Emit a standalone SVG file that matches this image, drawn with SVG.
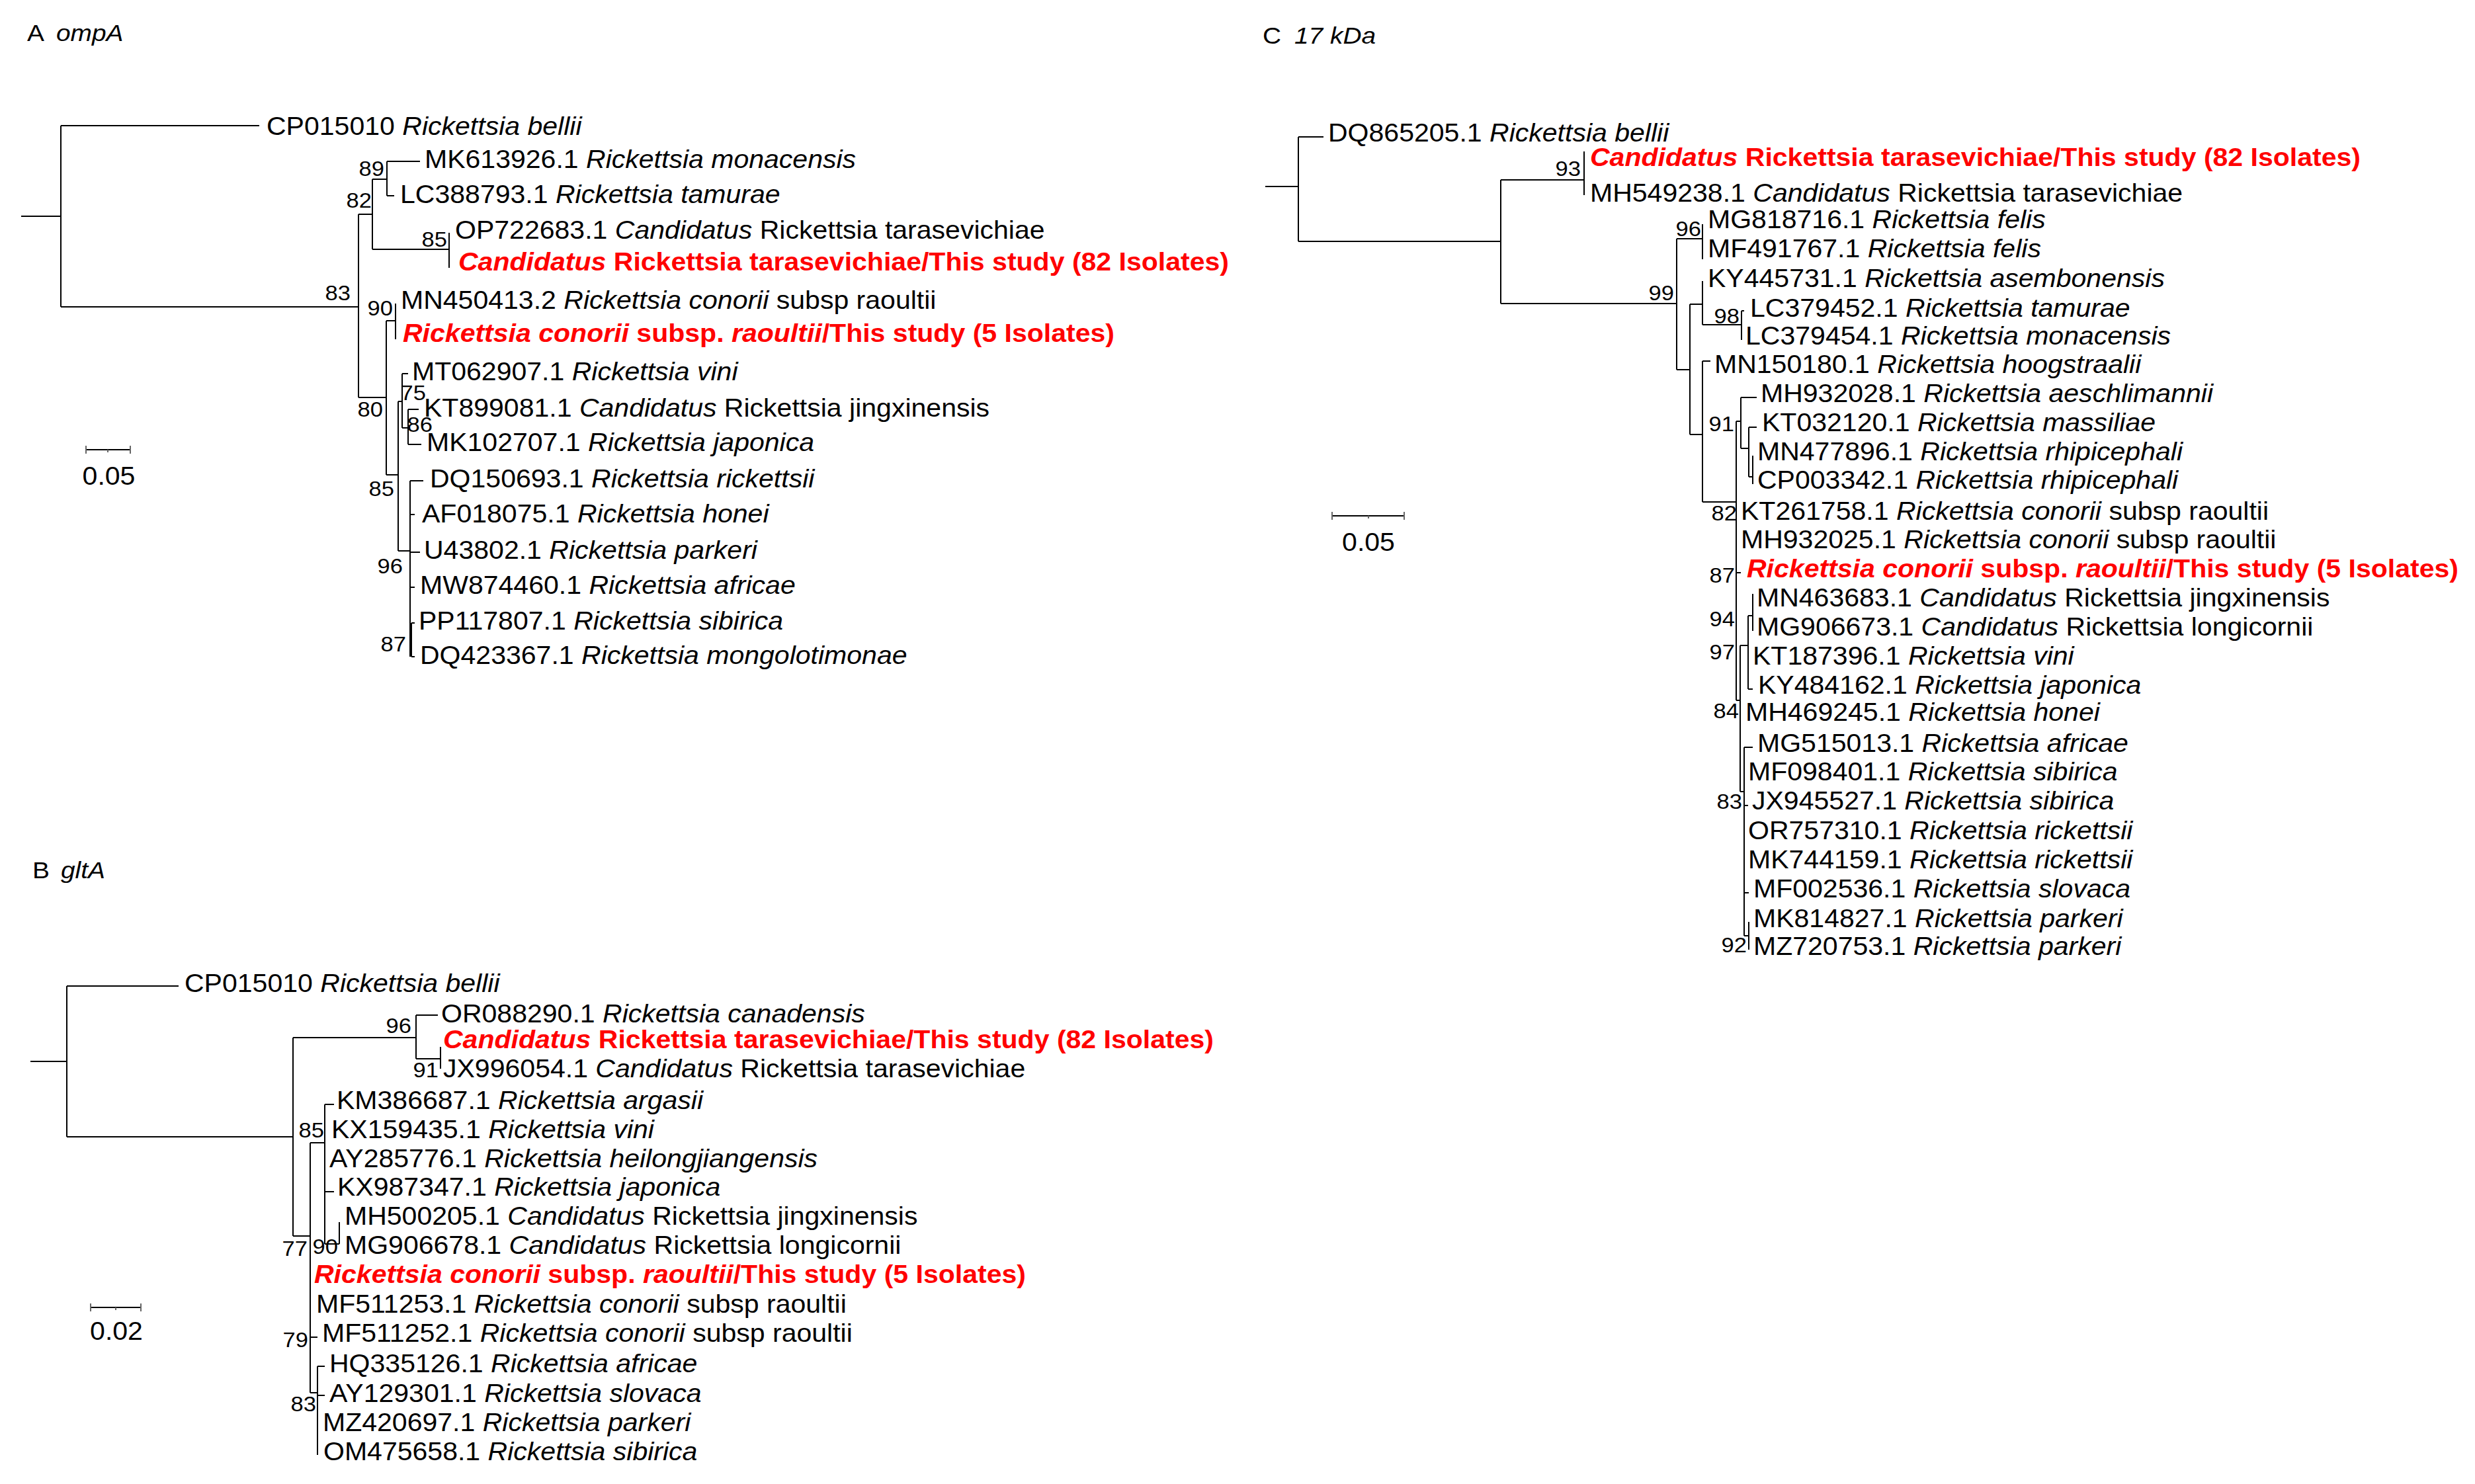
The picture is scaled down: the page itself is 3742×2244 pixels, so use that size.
<svg xmlns="http://www.w3.org/2000/svg" width="3742" height="2244" viewBox="0 0 3742 2244">
<style>
.t{font-family:"Liberation Sans",Arial,sans-serif;font-size:38px;fill:#000}
.h{font-size:36px}
.i{font-style:italic}
.r{fill:#ff0000;font-weight:bold}
.bs{font-size:32px;text-anchor:end}
.sc{text-anchor:middle}
.br{stroke:#000;stroke-width:2;fill:none}
.tk{stroke:#666;stroke-width:2;fill:none}
</style>
<rect width="3742" height="2244" fill="#fff"/>

<!-- ================= PANEL A ================= -->
<g id="A-title">
<text class="t h" transform="translate(41,62) scale(1.08,1)">A</text>
<text class="t h i" transform="translate(85,62) scale(1.08,1)">ompA</text>
</g>
<g id="A-branches">
<path class="br" d="M32 327H92 M92 190V464 M92 190H392 M92 464H542 M542 324V601 M542 324H563 M563 271V377 M563 271H585 M585 244V296 M585 244H635 M585 296H596 M563 377H679 M679 352V405 M542 601H584 M584 485V718 M584 485H598 M598 459V513 M584 718H602 M602 607V833 M602 607H608 M608 565V647 M608 565H617 M608 647H617 M617 619V672 M617 619H633 M617 672H637 M602 833H620 M620 727V993 M620 727H640 M620 778H627 M620 835H635 M620 888H627 M622 942V993 M622 942H627 M622 993H627"/>
</g>
<g id="A-scale">
<path class="br" d="M130 680H197"/>
<path class="tk" d="M130 674V686 M197 674V686 M163 680V684"/>
<text class="t sc" transform="translate(164.5,733) scale(1.08,1)">0.05</text>
</g>
<g id="A-bootstrap">
<text class="t bs" transform="translate(581,266) scale(1.08,1)">89</text>
<text class="t bs" transform="translate(562,314) scale(1.08,1)">82</text>
<text class="t bs" transform="translate(676,373) scale(1.08,1)">85</text>
<text class="t bs" transform="translate(530,454) scale(1.08,1)">83</text>
<text class="t bs" transform="translate(594,477) scale(1.08,1)">90</text>
<text class="t bs" transform="translate(579,630) scale(1.08,1)">80</text>
<text class="t bs" transform="translate(644,605) scale(1.08,1)">75</text>
<text class="t bs" transform="translate(654,653) scale(1.08,1)">86</text>
<text class="t bs" transform="translate(596,750) scale(1.08,1)">85</text>
<text class="t bs" transform="translate(609,867) scale(1.08,1)">96</text>
<text class="t bs" transform="translate(614,985) scale(1.08,1)">87</text>
</g>
<g id="A-tip-CP015010"><text class="t" transform="translate(403,204) scale(1.08,1)">CP015010 <tspan class="i">Rickettsia bellii</tspan></text></g>
<g id="A-tip-MK613926"><text class="t" transform="translate(642,254) scale(1.08,1)">MK613926.1 <tspan class="i">Rickettsia monacensis</tspan></text></g>
<g id="A-tip-LC388793"><text class="t" transform="translate(605,307) scale(1.08,1)">LC388793.1 <tspan class="i">Rickettsia tamurae</tspan></text></g>
<g id="A-tip-OP722683"><text class="t" transform="translate(688,361) scale(1.08,1)">OP722683.1 <tspan class="i">Candidatus</tspan> Rickettsia tarasevichiae</text></g>
<g id="A-tip-tarasevichiae-study"><text class="t r" transform="translate(693,409) scale(1.08,1)"><tspan class="i">Candidatus</tspan> Rickettsia tarasevichiae/This study (82 Isolates)</text></g>
<g id="A-tip-MN450413"><text class="t" transform="translate(606,467) scale(1.08,1)">MN450413.2 <tspan class="i">Rickettsia conorii</tspan> subsp raoultii</text></g>
<g id="A-tip-raoultii-study"><text class="t r" transform="translate(609,517) scale(1.08,1)"><tspan class="i">Rickettsia conorii</tspan> subsp. <tspan class="i">raoultii</tspan>/This study (5 Isolates)</text></g>
<g id="A-tip-MT062907"><text class="t" transform="translate(623,575) scale(1.08,1)">MT062907.1 <tspan class="i">Rickettsia vini</tspan></text></g>
<g id="A-tip-KT899081"><text class="t" transform="translate(641,630) scale(1.08,1)">KT899081.1 <tspan class="i">Candidatus</tspan> Rickettsia jingxinensis</text></g>
<g id="A-tip-MK102707"><text class="t" transform="translate(645,682) scale(1.08,1)">MK102707.1 <tspan class="i">Rickettsia japonica</tspan></text></g>
<g id="A-tip-DQ150693"><text class="t" transform="translate(650,737) scale(1.08,1)">DQ150693.1 <tspan class="i">Rickettsia rickettsii</tspan></text></g>
<g id="A-tip-AF018075"><text class="t" transform="translate(638,790) scale(1.08,1)">AF018075.1 <tspan class="i">Rickettsia honei</tspan></text></g>
<g id="A-tip-U43802"><text class="t" transform="translate(641,845) scale(1.08,1)">U43802.1 <tspan class="i">Rickettsia parkeri</tspan></text></g>
<g id="A-tip-MW874460"><text class="t" transform="translate(635,898) scale(1.08,1)">MW874460.1 <tspan class="i">Rickettsia africae</tspan></text></g>
<g id="A-tip-PP117807"><text class="t" transform="translate(633,952) scale(1.08,1)">PP117807.1 <tspan class="i">Rickettsia sibirica</tspan></text></g>
<g id="A-tip-DQ423367"><text class="t" transform="translate(635,1004) scale(1.08,1)">DQ423367.1 <tspan class="i">Rickettsia mongolotimonae</tspan></text></g>

<!-- ================= PANEL B ================= -->
<g id="B-title">
<text class="t h" transform="translate(49,1328) scale(1.08,1)">B</text>
<text class="t h i" transform="translate(92,1328) scale(1.08,1)">gltA</text>
</g>
<g id="B-branches">
<path class="br" d="M46 1605H101 M101 1491V1719 M101 1491H270 M101 1719H443 M443 1569V1869 M443 1569H629 M629 1535V1601 M629 1535H662 M629 1601H666 M666 1583V1616 M443 1869H469 M469 1728V2106 M469 1728H491 M491 1670V1881 M491 1670H505 M491 1802H505 M491 1881H513 M513 1848V1881 M469 2022H480 M469 2106H480 M480 2066V2200 M480 2066H491 M480 2110H491"/>
</g>
<g id="B-scale">
<path class="br" d="M137 1977H213"/>
<path class="tk" d="M137 1971V1983 M213 1971V1983 M175 1977V1981"/>
<text class="t sc" transform="translate(176,2026) scale(1.08,1)">0.02</text>
</g>
<g id="B-bootstrap">
<text class="t bs" transform="translate(622,1562) scale(1.08,1)">96</text>
<text class="t bs" transform="translate(663,1629) scale(1.08,1)">91</text>
<text class="t bs" transform="translate(490,1720) scale(1.08,1)">85</text>
<text class="t bs" transform="translate(465,1899) scale(1.08,1)">77</text>
<text class="t bs" transform="translate(511,1896) scale(1.08,1)">90</text>
<text class="t bs" transform="translate(466,2037) scale(1.08,1)">79</text>
<text class="t bs" transform="translate(478,2134) scale(1.08,1)">83</text>
</g>
<g id="B-tip-CP015010"><text class="t" transform="translate(279,1500) scale(1.08,1)">CP015010 <tspan class="i">Rickettsia bellii</tspan></text></g>
<g id="B-tip-OR088290"><text class="t" transform="translate(667,1546) scale(1.08,1)">OR088290.1 <tspan class="i">Rickettsia canadensis</tspan></text></g>
<g id="B-tip-tarasevichiae-study"><text class="t r" transform="translate(670,1585) scale(1.08,1)"><tspan class="i">Candidatus</tspan> Rickettsia tarasevichiae/This study (82 Isolates)</text></g>
<g id="B-tip-JX996054"><text class="t" transform="translate(670,1629) scale(1.08,1)">JX996054.1 <tspan class="i">Candidatus</tspan> Rickettsia tarasevichiae</text></g>
<g id="B-tip-KM386687"><text class="t" transform="translate(509,1677) scale(1.08,1)">KM386687.1 <tspan class="i">Rickettsia argasii</tspan></text></g>
<g id="B-tip-KX159435"><text class="t" transform="translate(501,1721) scale(1.08,1)">KX159435.1 <tspan class="i">Rickettsia vini</tspan></text></g>
<g id="B-tip-AY285776"><text class="t" transform="translate(498,1765) scale(1.08,1)">AY285776.1 <tspan class="i">Rickettsia heilongjiangensis</tspan></text></g>
<g id="B-tip-KX987347"><text class="t" transform="translate(510,1808) scale(1.08,1)">KX987347.1 <tspan class="i">Rickettsia japonica</tspan></text></g>
<g id="B-tip-MH500205"><text class="t" transform="translate(521,1852) scale(1.08,1)">MH500205.1 <tspan class="i">Candidatus</tspan> Rickettsia jingxinensis</text></g>
<g id="B-tip-MG906678"><text class="t" transform="translate(521,1896) scale(1.08,1)">MG906678.1 <tspan class="i">Candidatus</tspan> Rickettsia longicornii</text></g>
<g id="B-tip-raoultii-study"><text class="t r" transform="translate(475,1940) scale(1.08,1)"><tspan class="i">Rickettsia conorii</tspan> subsp. <tspan class="i">raoultii</tspan>/This study (5 Isolates)</text></g>
<g id="B-tip-MF511253"><text class="t" transform="translate(478,1985) scale(1.08,1)">MF511253.1 <tspan class="i">Rickettsia conorii</tspan> subsp raoultii</text></g>
<g id="B-tip-MF511252"><text class="t" transform="translate(487,2029) scale(1.08,1)">MF511252.1 <tspan class="i">Rickettsia conorii</tspan> subsp raoultii</text></g>
<g id="B-tip-HQ335126"><text class="t" transform="translate(498,2075) scale(1.08,1)">HQ335126.1 <tspan class="i">Rickettsia africae</tspan></text></g>
<g id="B-tip-AY129301"><text class="t" transform="translate(498,2120) scale(1.08,1)">AY129301.1 <tspan class="i">Rickettsia slovaca</tspan></text></g>
<g id="B-tip-MZ420697"><text class="t" transform="translate(488,2164) scale(1.08,1)">MZ420697.1 <tspan class="i">Rickettsia parkeri</tspan></text></g>
<g id="B-tip-OM475658"><text class="t" transform="translate(489,2208) scale(1.08,1)">OM475658.1 <tspan class="i">Rickettsia sibirica</tspan></text></g>

<!-- ================= PANEL C ================= -->
<g id="C-title">
<text class="t h" transform="translate(1909,66) scale(1.08,1)">C</text>
<text class="t h i" transform="translate(1957,66) scale(1.08,1)">17 kDa</text>
</g>
<g id="C-branches">
<path class="br" d="M1913 282H1963 M1963 207V365 M1963 207H2001 M1963 365H2269 M2269 272V459 M2269 272H2395 M2395 229V295 M2269 459H2535 M2535 361V559 M2535 361H2574 M2574 339V392 M2535 559H2555 M2555 460V657 M2555 460H2574 M2574 425V491 M2574 491H2633 M2633 470V514 M2633 470H2637 M2555 657H2574 M2574 546V759 M2574 546H2586 M2574 759H2625 M2625 637V1059 M2625 637H2632 M2632 601V678 M2632 601H2656 M2632 678H2644 M2644 646V721 M2644 646H2656 M2644 721H2650 M2650 689V732 M2625 866H2632 M2625 1059H2631 M2631 976V1197 M2631 976H2643 M2643 931V1042 M2643 931H2650 M2650 898V954 M2643 1042H2650 M2631 1197H2637 M2637 1130V1415 M2637 1130H2650 M2637 1218H2643 M2637 1350H2644 M2637 1415H2644 M2644 1394V1436"/>
</g>
<g id="C-scale">
<path class="br" d="M2014 780H2123"/>
<path class="tk" d="M2014 774V786 M2123 774V786 M2069 780V784"/>
<text class="t sc" transform="translate(2069,833) scale(1.08,1)">0.05</text>
</g>
<g id="C-bootstrap">
<text class="t bs" transform="translate(2390,266) scale(1.08,1)">93</text>
<text class="t bs" transform="translate(2531,454) scale(1.08,1)">99</text>
<text class="t bs" transform="translate(2572,357) scale(1.08,1)">96</text>
<text class="t bs" transform="translate(2630,489) scale(1.08,1)">98</text>
<text class="t bs" transform="translate(2622,652) scale(1.08,1)">91</text>
<text class="t bs" transform="translate(2626,787) scale(1.08,1)">82</text>
<text class="t bs" transform="translate(2623,881) scale(1.08,1)">87</text>
<text class="t bs" transform="translate(2623,947) scale(1.08,1)">94</text>
<text class="t bs" transform="translate(2623,997) scale(1.08,1)">97</text>
<text class="t bs" transform="translate(2629,1086) scale(1.08,1)">84</text>
<text class="t bs" transform="translate(2634,1223) scale(1.08,1)">83</text>
<text class="t bs" transform="translate(2641,1440) scale(1.08,1)">92</text>
</g>
<g id="C-tip-DQ865205"><text class="t" transform="translate(2008,214) scale(1.08,1)">DQ865205.1 <tspan class="i">Rickettsia bellii</tspan></text></g>
<g id="C-tip-tarasevichiae-study"><text class="t r" transform="translate(2404,251) scale(1.08,1)"><tspan class="i">Candidatus</tspan> Rickettsia tarasevichiae/This study (82 Isolates)</text></g>
<g id="C-tip-MH549238"><text class="t" transform="translate(2404,305) scale(1.08,1)">MH549238.1 <tspan class="i">Candidatus</tspan> Rickettsia tarasevichiae</text></g>
<g id="C-tip-MG818716"><text class="t" transform="translate(2582,345) scale(1.08,1)">MG818716.1 <tspan class="i">Rickettsia felis</tspan></text></g>
<g id="C-tip-MF491767"><text class="t" transform="translate(2582,389) scale(1.08,1)">MF491767.1 <tspan class="i">Rickettsia felis</tspan></text></g>
<g id="C-tip-KY445731"><text class="t" transform="translate(2582,434) scale(1.08,1)">KY445731.1 <tspan class="i">Rickettsia asembonensis</tspan></text></g>
<g id="C-tip-LC379452"><text class="t" transform="translate(2646,479) scale(1.08,1)">LC379452.1 <tspan class="i">Rickettsia tamurae</tspan></text></g>
<g id="C-tip-LC379454"><text class="t" transform="translate(2639,521) scale(1.08,1)">LC379454.1 <tspan class="i">Rickettsia monacensis</tspan></text></g>
<g id="C-tip-MN150180"><text class="t" transform="translate(2592,564) scale(1.08,1)">MN150180.1 <tspan class="i">Rickettsia hoogstraalii</tspan></text></g>
<g id="C-tip-MH932028"><text class="t" transform="translate(2662,608) scale(1.08,1)">MH932028.1 <tspan class="i">Rickettsia aeschlimannii</tspan></text></g>
<g id="C-tip-KT032120"><text class="t" transform="translate(2664,652) scale(1.08,1)">KT032120.1 <tspan class="i">Rickettsia massiliae</tspan></text></g>
<g id="C-tip-MN477896"><text class="t" transform="translate(2657,696) scale(1.08,1)">MN477896.1 <tspan class="i">Rickettsia rhipicephali</tspan></text></g>
<g id="C-tip-CP003342"><text class="t" transform="translate(2657,739) scale(1.08,1)">CP003342.1 <tspan class="i">Rickettsia rhipicephali</tspan></text></g>
<g id="C-tip-KT261758"><text class="t" transform="translate(2632,786) scale(1.08,1)">KT261758.1 <tspan class="i">Rickettsia conorii</tspan> subsp raoultii</text></g>
<g id="C-tip-MH932025"><text class="t" transform="translate(2632,829) scale(1.08,1)">MH932025.1 <tspan class="i">Rickettsia conorii</tspan> subsp raoultii</text></g>
<g id="C-tip-raoultii-study"><text class="t r" transform="translate(2641,873) scale(1.08,1)"><tspan class="i">Rickettsia conorii</tspan> subsp. <tspan class="i">raoultii</tspan>/This study (5 Isolates)</text></g>
<g id="C-tip-MN463683"><text class="t" transform="translate(2656,917) scale(1.08,1)">MN463683.1 <tspan class="i">Candidatus</tspan> Rickettsia jingxinensis</text></g>
<g id="C-tip-MG906673"><text class="t" transform="translate(2656,961) scale(1.08,1)">MG906673.1 <tspan class="i">Candidatus</tspan> Rickettsia longicornii</text></g>
<g id="C-tip-KT187396"><text class="t" transform="translate(2650,1005) scale(1.08,1)">KT187396.1 <tspan class="i">Rickettsia vini</tspan></text></g>
<g id="C-tip-KY484162"><text class="t" transform="translate(2658,1049) scale(1.08,1)">KY484162.1 <tspan class="i">Rickettsia japonica</tspan></text></g>
<g id="C-tip-MH469245"><text class="t" transform="translate(2639,1090) scale(1.08,1)">MH469245.1 <tspan class="i">Rickettsia honei</tspan></text></g>
<g id="C-tip-MG515013"><text class="t" transform="translate(2657,1137) scale(1.08,1)">MG515013.1 <tspan class="i">Rickettsia africae</tspan></text></g>
<g id="C-tip-MF098401"><text class="t" transform="translate(2643,1180) scale(1.08,1)">MF098401.1 <tspan class="i">Rickettsia sibirica</tspan></text></g>
<g id="C-tip-JX945527"><text class="t" transform="translate(2649,1224) scale(1.08,1)">JX945527.1 <tspan class="i">Rickettsia sibirica</tspan></text></g>
<g id="C-tip-OR757310"><text class="t" transform="translate(2643,1269) scale(1.08,1)">OR757310.1 <tspan class="i">Rickettsia rickettsii</tspan></text></g>
<g id="C-tip-MK744159"><text class="t" transform="translate(2643,1313) scale(1.08,1)">MK744159.1 <tspan class="i">Rickettsia rickettsii</tspan></text></g>
<g id="C-tip-MF002536"><text class="t" transform="translate(2651,1357) scale(1.08,1)">MF002536.1 <tspan class="i">Rickettsia slovaca</tspan></text></g>
<g id="C-tip-MK814827"><text class="t" transform="translate(2651,1402) scale(1.08,1)">MK814827.1 <tspan class="i">Rickettsia parkeri</tspan></text></g>
<g id="C-tip-MZ720753"><text class="t" transform="translate(2651,1444) scale(1.08,1)">MZ720753.1 <tspan class="i">Rickettsia parkeri</tspan></text></g>
</svg>
